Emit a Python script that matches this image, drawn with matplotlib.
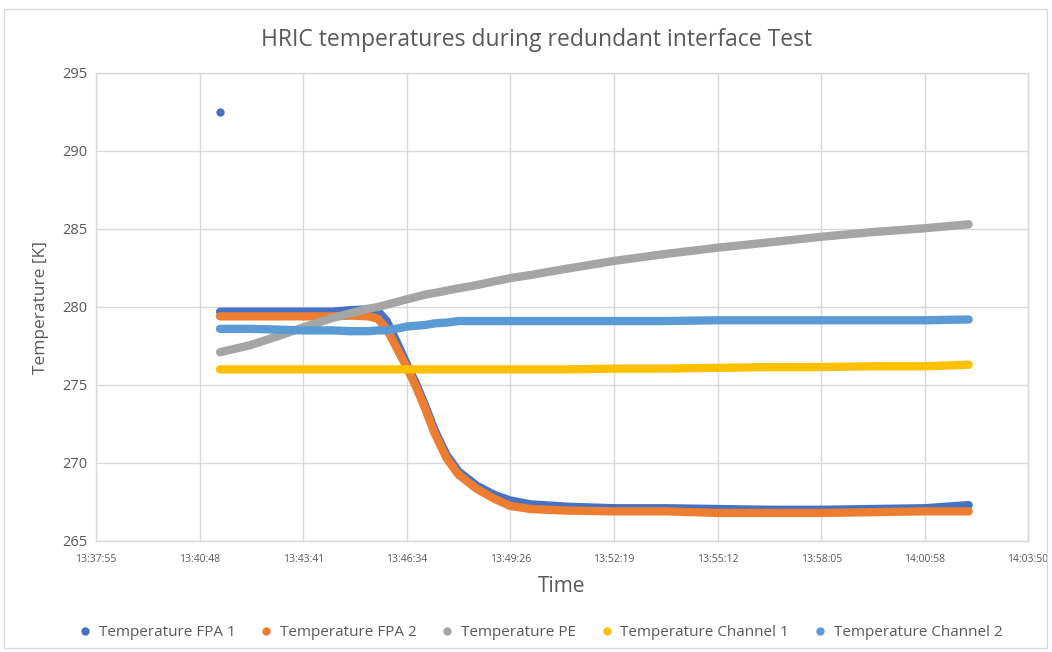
import matplotlib
matplotlib.use("Agg")
import matplotlib.pyplot as plt
from matplotlib.patches import Rectangle

# ---- data ----
times = ["13:41:22", "13:42:12", "13:43:00", "13:43:41", "13:44:30", "13:45:00",
         "13:45:30", "13:45:45", "13:46:00", "13:46:15", "13:46:34", "13:46:50",
         "13:47:05", "13:47:20", "13:47:40", "13:48:00", "13:48:30", "13:49:00",
         "13:49:26", "13:50:00", "13:51:00", "13:52:19", "13:53:45", "13:55:12",
         "13:56:40", "13:58:05", "13:59:30", "14:00:58", "14:02:11"]

fpa1 = [279.7, 279.7, 279.7, 279.7, 279.7, 279.8, 279.85, 279.75, 279.1, 277.9,
        276.3, 275.0, 273.6, 272.1, 270.5, 269.45, 268.55, 267.95, 267.6, 267.35,
        267.2, 267.1, 267.1, 267.05, 267.0, 267.0, 267.05, 267.1, 267.3]
fpa2 = [279.4, 279.4, 279.4, 279.4, 279.4, 279.45, 279.4, 279.25, 278.6, 277.5,
        276.1, 274.8, 273.4, 271.9, 270.3, 269.25, 268.35, 267.7, 267.25, 267.05,
        266.95, 266.9, 266.9, 266.8, 266.8, 266.8, 266.85, 266.9, 266.9]
pe = [277.1, 277.55, 278.15, 278.7, 279.3, 279.6, 279.9, 280.0, 280.15, 280.3,
      280.5, 280.65, 280.8, 280.9, 281.05, 281.2, 281.4, 281.65, 281.85, 282.05,
      282.45, 282.95, 283.4, 283.8, 284.15, 284.5, 284.8, 285.05, 285.3]
ch1 = [276.0, 276.0, 276.0, 276.0, 276.0, 276.0, 276.0, 276.0, 276.0, 276.0,
       276.0, 276.0, 276.0, 276.0, 276.0, 276.0, 276.0, 276.0, 276.0, 276.0,
       276.0, 276.05, 276.05, 276.1, 276.15, 276.15, 276.2, 276.2, 276.3]
ch2 = [278.6, 278.6, 278.55, 278.5, 278.5, 278.45, 278.45, 278.5, 278.5, 278.6,
       278.75, 278.8, 278.85, 278.95, 279.0, 279.1, 279.1, 279.1, 279.1, 279.1,
       279.1, 279.1, 279.1, 279.15, 279.15, 279.15, 279.15, 279.15, 279.2]

outlier_time = ["13:41:22"]
outlier_fpa1 = [292.5]

series_names = ["Temperature FPA 1", "Temperature FPA 2", "Temperature PE",
                "Temperature Channel 1", "Temperature Channel 2"]
series_colors = ["#4472C4", "#ED7D31", "#A5A5A5", "#FFC000", "#5B9BD5"]

xtick_labels = ["13:37:55", "13:40:48", "13:43:41", "13:46:34", "13:49:26",
                "13:52:19", "13:55:12", "13:58:05", "14:00:58", "14:03:50"]
yticks = [265, 270, 275, 280, 285, 290, 295]

title = "HRIC temperatures during redundant interface Test"


def to_sec(s):
    h, m, sec = (int(p) for p in s.split(":"))
    return h * 3600 + m * 60 + sec


x = [to_sec(t) for t in times]
xt = [to_sec(t) for t in xtick_labels]

FONT = ["Open Sans", "DejaVu Sans"]
TXT = "#595959"

fig = plt.figure(figsize=(10.52, 6.52), dpi=100)
fig.patches.append(Rectangle((4 / 1052, 4 / 652), 1043 / 1052, 639 / 652,
                             transform=fig.transFigure, fill=False,
                             edgecolor="#D9D9D9", linewidth=1))
ax = fig.add_axes([96 / 1052, 1 - 541 / 652, (1028 - 96) / 1052, (541 - 73) / 652])

series = [fpa1, fpa2, pe, ch1, ch2]
for name, col, vals in zip(series_names, series_colors, series):
    ax.plot(x, vals, color=col, linewidth=6.0, solid_capstyle="round",
            solid_joinstyle="round", label=name, zorder=3)
ax.scatter([to_sec(t) for t in outlier_time], outlier_fpa1, s=36,
           color=series_colors[0], zorder=3, linewidths=0)

ax.set_xlim(xt[0], xt[-1])
ax.set_ylim(yticks[0], yticks[-1])
ax.set_xticks(xt)
ax.set_xticklabels(xtick_labels, fontsize=7.5, color=TXT, family=FONT)
ax.set_yticks(yticks)
ax.set_yticklabels([str(v) for v in yticks], fontsize=10.5, color=TXT, family=FONT)
ax.tick_params(length=0, pad=9)
ax.tick_params(axis="y", pad=6)
ax.grid(True, color="#D9D9D9", linewidth=1)
ax.set_axisbelow(True)
for sp in ax.spines.values():
    sp.set_color("#D9D9D9")
    sp.set_linewidth(1)

ax.set_xlabel("Time", fontsize=15, color=TXT, family=FONT, labelpad=8)
ax.set_ylabel("Temperature [K]", fontsize=12.5, color=TXT, family=FONT, labelpad=10)
fig.text(537 / 1052, 1 - 40 / 652, title, ha="center", va="center",
         fontsize=16.5, color=TXT, family=FONT)

handles = [plt.Line2D([], [], marker="o", linestyle="none", color=c, markersize=5)
           for c in series_colors]
fig.legend(handles, series_names, loc="center", bbox_to_anchor=(540 / 1052, 1 - 633 / 652),
           ncol=5, frameon=False, prop={"family": FONT, "size": 11},
           labelcolor=TXT, handletextpad=0.4, columnspacing=1.5, handlelength=1.0)

fig.savefig("out.png", dpi=100)
